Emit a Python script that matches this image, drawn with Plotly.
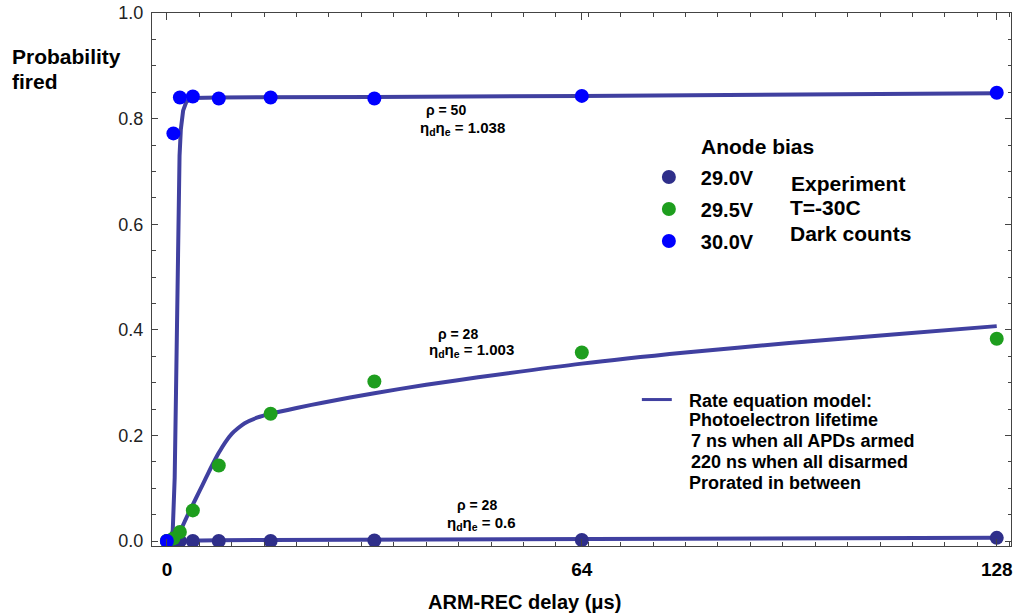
import plotly.graph_objects as go

# ---------------- data ----------------
x_exp = [0, 1, 2, 4, 8, 16, 32, 64, 128]
p_290 = [0.0, 0.0, 0.0, 0.0, 0.0, 0.0, 0.001, 0.002, 0.006]
p_295 = [0.0, 0.005, 0.017, 0.058, 0.143, 0.241, 0.302, 0.357, 0.383]
p_300 = [0.0, 0.772, 0.840, 0.842, 0.838, 0.840, 0.838, 0.843, 0.849]

m50_x = [0, 0.5, 0.9, 1.2, 1.4, 1.55, 1.7, 1.8, 1.95, 2.15, 2.5, 3.0, 4.0, 8, 16, 32, 64, 96, 128]
m50_y = [0, 0.002, 0.02, 0.12, 0.28, 0.42, 0.56, 0.66, 0.73, 0.78, 0.815, 0.832, 0.839, 0.840, 0.840, 0.841, 0.843, 0.845, 0.848]

m28_x = [0, 1, 2, 3, 4, 5, 6, 7, 8, 9, 10, 11, 12, 14, 16, 20, 24, 32, 40, 48, 64, 80, 96, 112, 128]
m28_y = [0, 0.004, 0.018, 0.044, 0.069, 0.094, 0.119, 0.144, 0.167, 0.187, 0.203, 0.214, 0.223, 0.234, 0.241, 0.252, 0.262, 0.280, 0.296, 0.310, 0.336, 0.357, 0.375, 0.391, 0.407]

m06_x = [0, 2, 4, 8, 16, 32, 64, 96, 128]
m06_y = [0, 0.0005, 0.001, 0.0015, 0.002, 0.0025, 0.0035, 0.0048, 0.006]

x_ticks = [0, 64, 128]
y_ticks = [0.0, 0.2, 0.4, 0.6, 0.8, 1.0]

series_names = ["29.0V", "29.5V", "30.0V"]
series_colors = ["#2f2f8a", "#1e9e1e", "#0000ff"]
line_color = "#4040a0"

FONT = "Liberation Sans"

fig = go.Figure()

# model curves
fig.add_trace(go.Scatter(x=m50_x, y=m50_y, mode="lines",
                         line=dict(color=line_color, width=4),
                         showlegend=False, hoverinfo="skip"))
fig.add_trace(go.Scatter(x=m28_x, y=m28_y, mode="lines",
                         line=dict(color=line_color, width=4, shape="spline", smoothing=0.8),
                         showlegend=False, hoverinfo="skip"))
fig.add_trace(go.Scatter(x=m06_x, y=m06_y, mode="lines",
                         line=dict(color=line_color, width=4),
                         showlegend=False, hoverinfo="skip"))

# experimental points
for i, (name, ys) in enumerate(zip(series_names, [p_290, p_295, p_300])):
    fig.add_trace(go.Scatter(x=x_exp, y=ys, mode="markers", name=name,
                             legendgroup=name,
                             marker=dict(color=series_colors[i], size=14, line=dict(width=0))))

W, H = 1016, 614
ml, mr, mt, mb = 152, 3, 11, 68
pw, ph = W - ml - mr, H - mt - mb


def px(xp):
    return (xp - ml) / pw


def py(yp):
    return (H - mb - yp) / ph


axis_common = dict(showline=True, linecolor="#444", linewidth=1, mirror="allticks",
                   ticks="inside", tickcolor="#444", showgrid=False, zeroline=False)

fig.update_xaxes(range=[-2.3, 130.2], tickvals=x_ticks, ticklen=7,
                 tickfont=dict(family=FONT, size=19, color="black", weight="bold"),
                 ticklabelstandoff=6,
                 minor=dict(dtick=5, tick0=0, ticklen=4, ticks="inside", tickcolor="#444"),
                 **axis_common)
fig.update_yaxes(range=[-0.0094, 1.0], tickvals=y_ticks, tickformat=".1f", ticklen=6,
                 tickfont=dict(family=FONT, size=18, color="#222"),
                 ticklabelstandoff=4,
                 minor=dict(dtick=0.05, tick0=0, ticklen=3.5, ticks="inside", tickcolor="#444"),
                 **axis_common)

ann = []


def text(xp, yp, s, size, bold=True, xanchor="left"):
    ann.append(dict(x=px(xp), y=py(yp), xref="paper", yref="paper", text=s,
                    showarrow=False, xanchor=xanchor, yanchor="middle",
                    font=dict(family=FONT, size=size, color="black",
                              weight="bold" if bold else "normal")))


text(10, 55, "Probability", 21)
text(10, 80, "fired", 21)
text(525, 602, "ARM-REC delay (μs)", 20, xanchor="center")

text(447, 108, "ρ = 50", 14, xanchor="center")
text(463, 127, "η<sub>d</sub>η<sub>e</sub> = 1.038", 15, xanchor="center")
text(459, 333, "ρ = 28", 14, xanchor="center")
text(472, 350, "η<sub>d</sub>η<sub>e</sub> = 1.003", 15, xanchor="center")
text(478, 505, "ρ = 28", 14, xanchor="center")
text(482, 523, "η<sub>d</sub>η<sub>e</sub> = 0.6", 15, xanchor="center")

text(700, 145, "Anode bias", 21)
text(790, 182, "Experiment", 21)
text(789, 206, "T=-30C", 21)
text(789, 232, "Dark counts", 21)

text(688, 400, "Rate equation model:", 18)
text(688, 420, "Photoelectron lifetime", 18)
text(690, 441, "7 ns when all APDs armed", 18)
text(690, 462, "220 ns when all disarmed", 18)
text(688, 483, "Prorated in between", 18)

fig.add_shape(type="line", xref="paper", yref="paper",
              x0=px(643), x1=px(673), y0=py(399), y1=py(399),
              line=dict(color=line_color, width=3))

fig.update_layout(
    width=W, height=H,
    margin=dict(l=ml, r=mr, t=mt, b=mb),
    paper_bgcolor="white", plot_bgcolor="white",
    annotations=ann,
    showlegend=True,
    legend=dict(x=px(638), y=py(156), xanchor="left", yanchor="top",
                bgcolor="rgba(0,0,0,0)", borderwidth=0,
                itemwidth=54, tracegroupgap=3, traceorder="grouped",
                font=dict(family=FONT, size=20, color="black", weight="bold")),
)

fig.write_html("out.html")
